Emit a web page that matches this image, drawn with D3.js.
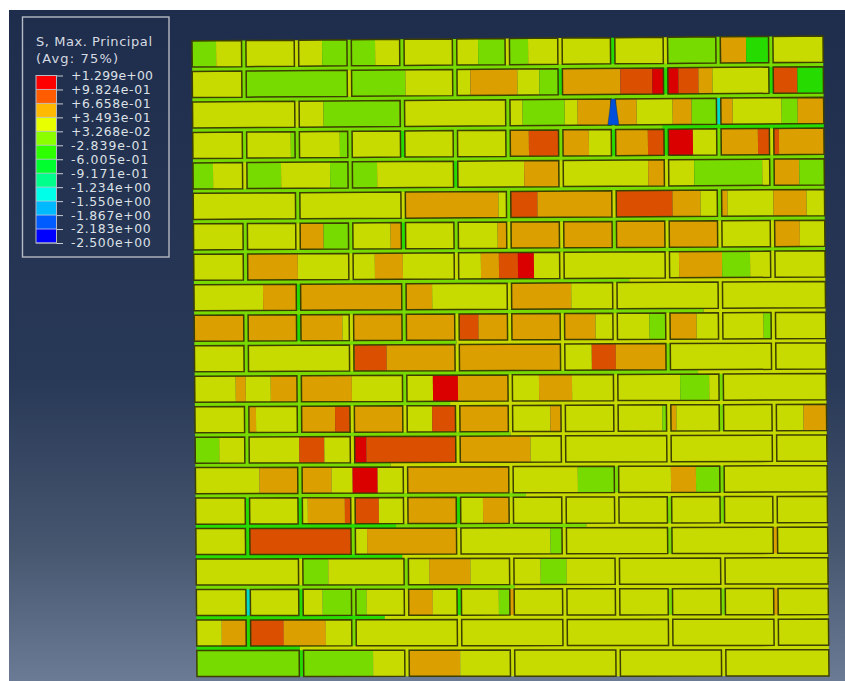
<!DOCTYPE html>
<html>
<head>
<meta charset="utf-8">
<script src="https://cdn.jsdelivr.net/npm/d3@7"></script>
<style>
html,body{margin:0;padding:0;background:#fff}
svg{display:block}
text{font-family:"DejaVu Sans",sans-serif}
</style>
</head>
<body>
<div id="chart"></div>
<script>
// ---- contour legend
const legendTitle = ["S, Max. Principal", "(Avg: 75%)"];
const legendBreaks = [1.299,0.9824,0.6658,0.3493,0.03268,-0.2839,-0.6005,-0.9171,-1.234,-1.550,-1.867,-2.183,-2.500];
const legendLabels = ["+1.299e+00","+9.824e-01","+6.658e-01","+3.493e-01","+3.268e-02","-2.839e-01","-6.005e-01","-9.171e-01","-1.234e+00","-1.550e+00","-1.867e+00","-2.183e+00","-2.500e+00"];
const bandColours = ["#0000ff","#005cff","#00b9ff","#00ffe8","#00ff8b","#00ff2e","#2eff00","#8bff00","#e8ff00","#ffb900","#ff5c00","#ff0000"];

// ---- stress levels
const R=1.14, D=0.82, O=0.51, Y=0.19, G=-0.13, B=-0.44, C=-1.39, U=-2.03;

// ---- half-brick joints of each course
const allJ=[1,2,3,4,5,6,7,8,9,10,11], oddJ=[1,3,5,7,9,11], evenJ=[2,4,6,8,10];
const courseJoints=[allJ,oddJ,evenJ,allJ,oddJ,evenJ,allJ,oddJ,evenJ,allJ,oddJ,evenJ,allJ,oddJ,evenJ,allJ,oddJ,evenJ,allJ,oddJ,evenJ];

// ---- stress in the head joints of each course
const jointStress=[
[G,Y,G,G,G,Y,Y,B,Y,G,G],
[G,Y,G,B,B,B],
[Y,G,G,O,C],
[G,G,G,B,G,G,G,B,B,G,Y],
[Y,G,B,Y,Y,G],
[G,Y,G,Y,G],
[G,Y,G,B,G,Y,Y,G,Y,Y,Y],
[G,Y,Y,Y,Y,Y],
[B,G,Y,Y,Y],
[G,B,Y,G,Y,Y,Y,Y,Y,Y,Y],
[G,Y,Y,Y,G,Y],
[G,G,Y,Y,G],
[G,G,Y,Y,Y,Y,Y,Y,Y,G,Y],
[G,Y,Y,Y,Y,Y],
[G,Y,Y,G,G],
[B,B,Y,Y,B,Y,Y,Y,G,G,Y],
[B,G,Y,Y,G,O],
[Y,G,Y,Y,Y],
[C,B,G,Y,B,O,Y,Y,G,G,O],
[B,G,Y,Y,Y,Y],
[B,Y,Y,Y,Y]];

// ---- stress bands along each course: [end of band, stress]
const courseBands=[
[[24,G],[130,Y],[183,G],[286,Y],[336,G],[476,Y],[529,G],[554,O],[578,B],[631,Y]],
[[53,Y],[213,G],[278,Y],[325,O],[347,Y],[368,G],[428,O],[460,D],[486,R],[506,D],[520,O],[581,Y],[605,D],[631,B]],
[[131,Y],[207,G],[330,Y],[372,G],[385,Y],[444,O],[480,Y],[499,O],[525,G],[540,O],[589,Y],[605,G],[631,O]],
[[98,Y],[102,G],[147,Y],[155,G],[317,Y],[336,O],[366,D],[396,O],[419,Y],[455,O],[472,D],[500,R],[525,Y],[565,O],[586,D],[631,O]],
[[20,G],[54,Y],[88,G],[137,Y],[184,G],[331,Y],[366,O],[455,Y],[472,O],[501,Y],[569,G],[578,Y],[606,O],[631,G]],
[[212,Y],[305,O],[316,Y],[344,D],[420,O],[479,D],[507,O],[527,Y],[534,O],[580,Y],[613,O],[632,Y]],
[[106,Y],[130,O],[155,G],[197,Y],[208,O],[304,Y],[314,O],[318,Y],[527,O],[578,Y],[606,O],[632,Y]],
[[54,Y],[104,O],[181,Y],[209,O],[287,Y],[305,O],[324,D],[340,R],[485,Y],[528,O],[556,G],[632,Y]],
[[69,Y],[238,O],[315,Y],[377,O],[632,Y]],
[[148,O],[156,Y],[263,O],[284,D],[401,O],[455,Y],[473,G],[502,O],[569,Y],[579,G],[632,Y]],
[[160,Y],[192,D],[366,O],[397,Y],[421,D],[472,O],[632,Y]],
[[41,Y],[51,O],[76,Y],[157,O],[238,Y],[263,R],[316,O],[344,Y],[377,O],[485,Y],[514,G],[632,Y]],
[[53,Y],[61,O],[102,Y],[140,O],[155,D],[208,O],[237,Y],[261,D],[315,O],[355,Y],[367,O],[467,Y],[473,G],[481,O],[608,Y],[632,O]],
[[24,G],[104,Y],[129,D],[156,Y],[171,R],[261,D],[335,O],[632,Y]],
[[64,Y],[136,O],[157,Y],[182,R],[210,Y],[315,O],[382,Y],[420,G],[475,Y],[500,O],[526,G],[632,Y]],
[[112,Y],[149,O],[183,D],[209,Y],[261,O],[287,Y],[314,O],[632,Y]],
[[49,Y],[155,D],[171,Y],[261,O],[354,Y],[367,G],[632,Y]],
[[105,Y],[132,G],[233,Y],[274,O],[344,Y],[370,G],[632,Y]],
[[126,Y],[170,G],[210,Y],[236,O],[302,Y],[314,G],[632,Y]],
[[25,Y],[49,O],[87,D],[129,O],[632,Y]],
[[176,G],[208,Y],[263,O],[632,Y]]];

// ---- stress along the bed joint below each course
const bedBands=[
[[631,G]],[[631,G]],[[470,G],[631,B]],[[631,G]],[[631,G]],[[631,G]],[[631,G]],
[[435,G],[631,Y]],[[509,G],[631,Y]],[[262,G],[631,Y]],[[503,G],[631,Y]],[[255,G],[631,Y]],
[[315,G],[631,Y]],[[195,G],[631,Y]],[[330,G],[631,Y]],[[200,B],[390,G],[631,Y]],[[206,B],[631,Y]],
[[318,G],[631,Y]],[[188,B],[631,Y]],[[103,B],[631,Y]]];

// ---- opening crack: course, joint, widths at top and bottom, stress
const cracks=[{course:2,joint:8,topWidth:4,bottomWidth:11,value:U}];

// ---- scales
const W=845,H=681;
const wallU=[0,631], wallV=[0,20.855], brickH=0.855;
const halfBrick=d3.scaleLinear().domain([0,1]).range([-1,51.7]);
const jointHalf=2.2;
const xL=d3.scaleLinear().domain(wallV).range([192,197]);
const xR=d3.scaleLinear().domain(wallV).range([823,829]);
const yL=d3.scaleLinear().domain(wallV).range([41,676.5]);
const yR=d3.scaleLinear().domain(wallV).range([36,676]);
const t=d3.scaleLinear().domain(wallU).range([0,1]);
const pt=(u,v)=>{const f=t(u);return [xL(v)+(xR(v)-xL(v))*f, yL(v)+(yR(v)-yL(v))*f];};
const quad=(u0,u1,v0,v1)=>"M"+[pt(u0,v0),pt(u1,v0),pt(u1,v1),pt(u0,v1)].map(p=>p.map(n=>n.toFixed(2)).join(",")).join("L")+"Z";

const thresholds=legendBreaks.slice(1,-1).slice().reverse();
const legendColour=d3.scaleThreshold().domain(thresholds).range(bandColours);
// the shaded model shows the contour colours slightly darkened
const plotColour=v=>{const c=d3.rgb(legendColour(v));return d3.rgb(c.r*0.86,c.g*0.86,c.b*0.86).formatHex();};

const svg=d3.select("#chart").append("svg").attr("width",W).attr("height",H);
const defs=svg.append("defs");
const grad=defs.append("linearGradient").attr("id","bg").attr("x1",0).attr("x2",0).attr("y1",0).attr("y2",1);
[[0,"#1e2d4b"],[0.55,"#283957"],[0.8,"#46566f"],[1,"#6c7b95"]].forEach(s=>grad.append("stop").attr("offset",s[0]).attr("stop-color",s[1]));
defs.append("filter").attr("id","soft").attr("x","-2%").attr("y","-2%").attr("width","104%").attr("height","104%")
  .append("feGaussianBlur").attr("stdDeviation",0.4);

svg.append("rect").attr("x",9).attr("y",10).attr("width",W-9).attr("height",H-10).attr("fill","url(#bg)");

const wall=svg.append("g").attr("filter","url(#soft)");

// bed joints
const bedG=wall.append("g");
bedBands.forEach((bands,i)=>{
  let prev=0;
  bands.forEach(([end,val])=>{
    bedG.append("path").attr("d",quad(prev,end,i+brickH-0.02,i+1.02)).attr("fill",plotColour(val));
    prev=end;
  });
});

const edge=d=>halfBrick(d);
courseBands.forEach((bands,i)=>{
  const g=wall.append("g").attr("class","course");
  const joints=courseJoints[i];
  const v0=i, v1=i+brickH;
  // head joints
  joints.forEach((k,j)=>{
    g.append("path").attr("d",quad(edge(k)-jointHalf,edge(k)+jointHalf,v0,v1)).attr("fill",plotColour(jointStress[i][j]));
  });
  // bricks and their contour bands
  const ends=[0,...joints.map(edge),631];
  d3.pairs(ends).forEach(([a,b],n)=>{
    const s=n===0?a:a+jointHalf, e=n===joints.length?b:b-jointHalf;
    let prev=0;
    bands.forEach(([end,val])=>{
      const lo=Math.max(prev,s), hi=Math.min(end,e);
      if(hi>lo) g.append("path").attr("d",quad(lo,hi,v0,v1)).attr("fill",plotColour(val));
      prev=end;
    });
    if(prev<e) g.append("path").attr("d",quad(Math.max(prev,s),e,v0,v1)).attr("fill",plotColour(bands[bands.length-1][1]));
    g.append("path").attr("d",quad(s,e,v0,v1)).attr("fill","none").attr("stroke","#3c3f00").attr("stroke-width",1.5);
  });
});

// crack
cracks.forEach(c=>{
  const u=edge(c.joint), v0=c.course, v1=c.course+brickH;
  const p=[pt(u-c.topWidth/2,v0),pt(u+c.topWidth/2,v0),pt(u+c.bottomWidth/2,v1),pt(u-c.bottomWidth/2,v1)];
  wall.append("path").attr("d","M"+p.join("L")+"Z").attr("fill",plotColour(c.value)).attr("stroke","#1a3a50").attr("stroke-width",0.5);
});

// legend
const leg=svg.append("g");
leg.append("rect").attr("x",22.5).attr("y",17).attr("width",146.5).attr("height",240)
  .attr("fill","none").attr("stroke","#b5bac4").attr("stroke-width",1.4);
const titleWidths=[116,82];
leg.selectAll(".title").data(legendTitle).join("text").attr("class","title")
  .attr("x",36).attr("y",(d,i)=>45.5+i*17.5).attr("fill","#d6dae2").attr("font-size",13)
  .attr("textLength",(d,i)=>titleWidths[i]).attr("lengthAdjust","spacing").text(d=>d);

const legY=d3.scaleLinear().domain([legendBreaks[0],legendBreaks[12]]).range([75.5,243]);
const barX=36, barW=20.5;
d3.pairs(legendBreaks).forEach(([hi,lo])=>{
  leg.append("rect").attr("x",barX).attr("y",legY(hi)).attr("width",barW).attr("height",legY(lo)-legY(hi))
    .attr("fill",legendColour((hi+lo)/2));
});
leg.selectAll(".sep").data(legendBreaks).join("line").attr("class","sep")
  .attr("x1",barX).attr("x2",barX+barW).attr("y1",d=>legY(d)).attr("y2",d=>legY(d))
  .attr("stroke","#ccd2e0").attr("stroke-opacity",0.75);
leg.append("rect").attr("x",barX).attr("y",legY(legendBreaks[0])).attr("width",barW).attr("height",legY(legendBreaks[12])-legY(legendBreaks[0]))
  .attr("fill","none").attr("stroke","#b5bac4");

const axis=d3.axisRight(legY).tickValues(legendBreaks).tickFormat((d,i)=>legendLabels[i]).tickSize(6.5).tickPadding(8);
const ag=leg.append("g").attr("transform",`translate(${barX+barW},0)`).call(axis);
ag.select(".domain").remove();
ag.selectAll(".tick line").attr("stroke","#c8ccd4");
ag.selectAll("text").attr("fill","#dde0e6").attr("font-size",12.4).attr("font-family","DejaVu Sans")
  .attr("textLength",(d,i)=>82-2.3*(legendLabels[i].match(/-/g)||[]).length).attr("lengthAdjust","spacing");
</script>
</body>
</html>
